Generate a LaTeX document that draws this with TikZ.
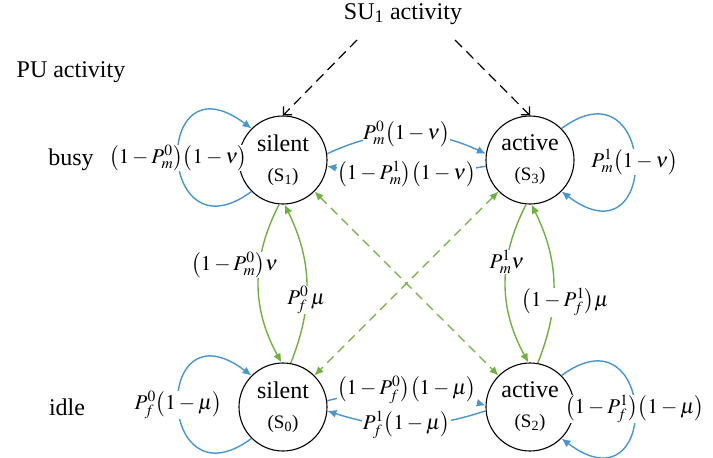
\documentclass[tikz,border=0pt]{standalone}
\usepackage{mathptmx}
\usepackage{fontspec}
\setmainfont{Liberation Serif}
\usetikzlibrary{arrows.meta}
\definecolor{loopblue}{RGB}{70,150,210}
\definecolor{flowgreen}{RGB}{110,178,60}
\begin{document}
\begin{tikzpicture}[x=1pt,y=-1pt,
  statenode/.style={circle,draw=black,line width=1.1pt,minimum size=88pt,inner sep=0pt,
    align=center,font=\fontsize{24}{27}\selectfont},
  heading/.style={font=\fontsize{24}{27}\selectfont,inner sep=0pt},
  rate/.style={font=\fontsize{21}{24}\selectfont,fill=white,inner sep=0.5pt},
  tip/.style={-{Latex[length=9pt,width=8pt]}},
  bluearc/.style={draw=loopblue,line width=1.4pt,tip},
  greenarc/.style={draw=flowgreen,line width=1.4pt,tip},
  greendash/.style={draw=flowgreen,line width=1.4pt,dash pattern=on 9pt off 6pt,
    {Latex[length=9pt,width=8pt]}-{Latex[length=9pt,width=8pt]}},
  sudash/.style={draw=black,line width=1.2pt,dash pattern=on 10pt off 6pt,
    -{Straight Barb[length=6pt,width=12pt]}}
]
\useasboundingbox (0,0) rectangle (713,458);

% row and column captions
\node[heading] (su)   at (403,14)  {SU\textsubscript{1} activity};
\node[heading] (pu)   at (71,72)   {PU activity};
\node[heading] (busy) at (71,160)  {busy};
\node[heading] (idle) at (67,407)  {idle};

% the four states
\newcommand{\statelabel}[2]{#1\\[3pt]{\fontsize{19}{21}\selectfont(S\textsubscript{#2})}}
\node[statenode] (S1) at (283,160) {\statelabel{silent}{1}};
\node[statenode] (S3) at (530,160) {\statelabel{active}{3}};
\node[statenode] (S0) at (283,407) {\statelabel{silent}{0}};
\node[statenode] (S2) at (530,407) {\statelabel{active}{2}};

% secondary-user activity
\coordinate (suL) at (357,40);
\coordinate (suR) at (455,40);
\draw[sudash] (suL) -- (S1.north);
\draw[sudash] (suR) -- (S3.north);

% self loops
\draw[bluearc] (S1.225) .. controls +(-95,70) and +(-100,-75) ..
  node[rate,midway]{$\bigl(1-P_m^0\bigr)\bigl(1-\nu\bigr)$} (S1.135);
\draw[bluearc] (S0.225) .. controls +(-95,70) and +(-100,-75) ..
  node[rate,midway]{$P_f^0\bigl(1-\mu\bigr)$} (S0.135);
\draw[bluearc] (S3.45) .. controls +(95,-70) and +(100,75) ..
  node[rate,midway]{$P_m^1\bigl(1-\nu\bigr)$} (S3.315);
\draw[bluearc] (S2.45) .. controls +(95,-70) and +(100,75) ..
  node[rate,midway]{$\bigl(1-P_f^1\bigr)\bigl(1-\mu\bigr)$} (S2.315);

% horizontal transitions
\draw[bluearc] (S1.8) to[bend left=25]
  node[rate]{$P_m^0\bigl(1-\nu\bigr)$} (S3.172);
\draw[bluearc] (S3.188) to[bend left=10]
  node[rate]{$\bigl(1-P_m^1\bigr)\bigl(1-\nu\bigr)$} (S1.352);
\draw[bluearc] (S0.8) to[bend left=16]
  node[rate]{$\bigl(1-P_f^0\bigr)\bigl(1-\mu\bigr)$} (S2.178);
\draw[bluearc] (S2.185) to[bend left=18]
  node[rate]{$P_f^1\bigl(1-\mu\bigr)$} (S0.355);

% vertical transitions
\draw[greenarc] (S1.265) to[bend right=28]
  node[rate,pos=.38,xshift=-25pt]{$\bigl(1-P_m^0\bigr)\nu$} (S0.92);
\draw[greenarc] (S0.80) to[bend right=24]
  node[rate,pos=.39]{$P_f^0\,\mu$} (S1.272);
\draw[greenarc] (S3.265) to[bend right=28]
  node[rate,pos=.36]{$P_m^1\nu$} (S2.92);
\draw[greenarc] (S2.80) to[bend right=24]
  node[rate,pos=.375,xshift=12pt]{$\bigl(1-P_f^1\bigr)\mu$} (S3.272);

% diagonal transitions
\draw[greendash] (S1.315) -- (S2.135);
\draw[greendash] (S3.225) -- (S0.45);
\end{tikzpicture}
\end{document}
